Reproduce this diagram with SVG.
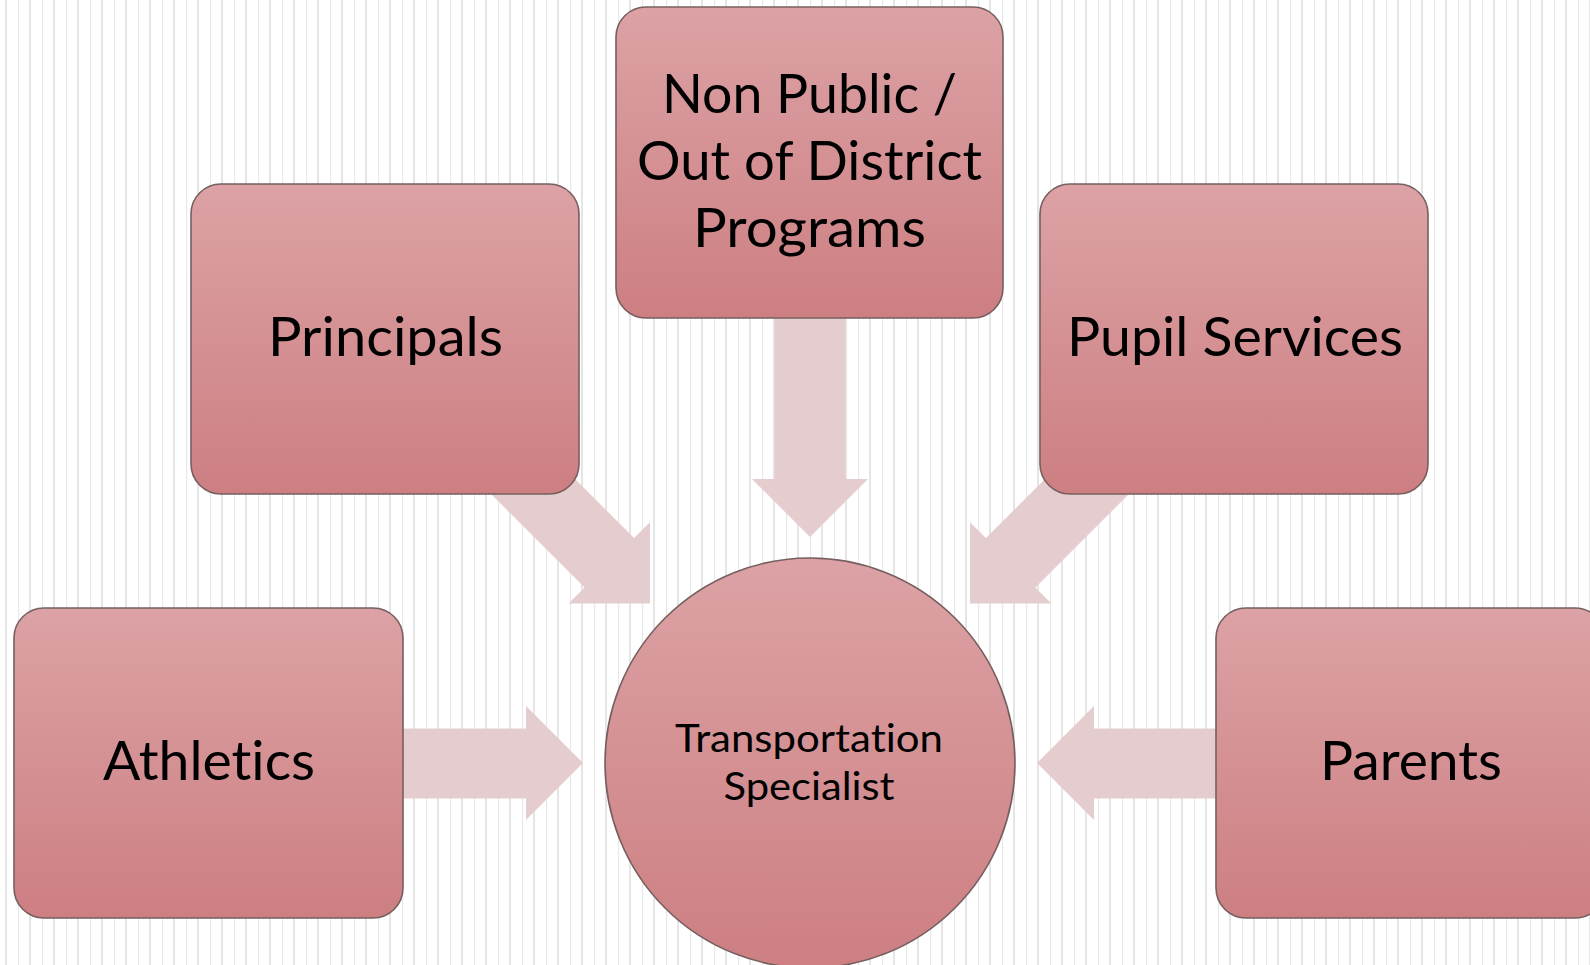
<svg xmlns="http://www.w3.org/2000/svg" width="1590" height="965" viewBox="0 0 1590 965">
  <defs>
    <pattern id="stripes" x="0" y="0" width="24" height="24" patternUnits="userSpaceOnUse">
      <rect x="5" y="0" width="2" height="24" fill="#e5e5e5"/>
      <rect x="18" y="0" width="1.2" height="24" fill="#e8e8e8"/>
    </pattern>
    <linearGradient id="boxGrad" x1="0" y1="0" x2="0" y2="1">
      <stop offset="0" stop-color="#dca2a5"/>
      <stop offset="1" stop-color="#cd7f82"/>
    </linearGradient>
    <polygon id="diagArrow" points="-200,-35 -57.5,-35 -57.5,-57.5 0,0 -57.5,57.5 -57.5,35 -200,35"/>
  </defs>
  <style>
    .box { fill: url(#boxGrad); stroke: #765f5f; stroke-width: 1.6; }
    .arrow { fill: #e5cdcf; stroke: none; }
    .lbl { font-family: "Lato", "Liberation Sans", sans-serif; font-size: 54px; fill: #000000; text-anchor: middle; font-variant-ligatures: none; font-feature-settings: "liga" 0, "clig" 0; }
    .lblc { font-family: "Lato", "Liberation Sans", sans-serif; font-size: 39px; fill: #000000; text-anchor: middle; font-variant-ligatures: none; font-feature-settings: "liga" 0, "clig" 0; }
  </style>
  <rect x="0" y="0" width="1590" height="965" fill="#ffffff"/>
  <rect x="0" y="0" width="1590" height="965" fill="url(#stripes)"/>

  <g id="connectors">
    <polygon class="arrow" points="774.5,300 845.5,300 845.5,479 868,479 810,537 752,479 774.5,479"/>
    <polygon class="arrow" points="380,728.5 526,728.5 526,706 583,763 526,820 526,798.5 380,798.5"/>
    <polygon class="arrow" points="1240,728.5 1094,728.5 1094,706 1037,763 1094,820 1094,798.5 1240,798.5"/>
    <use href="#diagArrow" class="arrow" transform="translate(650,603.5) rotate(45)"/>
    <use href="#diagArrow" class="arrow" transform="translate(970,603.5) rotate(135)"/>
  </g>

  <g id="node-nonpublic">
    <rect class="box" x="616" y="7" width="387" height="311" rx="30" ry="30"/>
    <text class="lbl" x="809.5" y="113" textLength="295" lengthAdjust="spacingAndGlyphs">Non Public /</text>
    <text class="lbl" x="809.5" y="180" textLength="345" lengthAdjust="spacingAndGlyphs">Out of District</text>
    <text class="lbl" x="809.5" y="247" textLength="233" lengthAdjust="spacingAndGlyphs">Programs</text>
  </g>

  <g id="node-principals">
    <rect class="box" x="191" y="184" width="388" height="310" rx="30" ry="30"/>
    <text class="lbl" x="385.5" y="356" textLength="235" lengthAdjust="spacingAndGlyphs">Principals</text>
  </g>

  <g id="node-pupil">
    <rect class="box" x="1040" y="184" width="388" height="310" rx="30" ry="30"/>
    <text class="lbl" x="1235" y="356" textLength="336" lengthAdjust="spacingAndGlyphs">Pupil Services</text>
  </g>

  <g id="node-athletics">
    <rect class="box" x="14" y="608" width="389" height="310" rx="30" ry="30"/>
    <text class="lbl" x="209" y="780" textLength="212" lengthAdjust="spacingAndGlyphs">Athletics</text>
  </g>

  <g id="node-parents">
    <rect class="box" x="1216" y="608" width="389" height="310" rx="30" ry="30"/>
    <text class="lbl" x="1411" y="780" textLength="182" lengthAdjust="spacingAndGlyphs">Parents</text>
  </g>

  <g id="node-transportation">
    <circle class="box" cx="810" cy="763" r="205"/>
    <text class="lblc" x="809" y="752" textLength="268" lengthAdjust="spacingAndGlyphs">Transportation</text>
    <text class="lblc" x="809" y="800" textLength="171" lengthAdjust="spacingAndGlyphs">Specialist</text>
  </g>
</svg>
